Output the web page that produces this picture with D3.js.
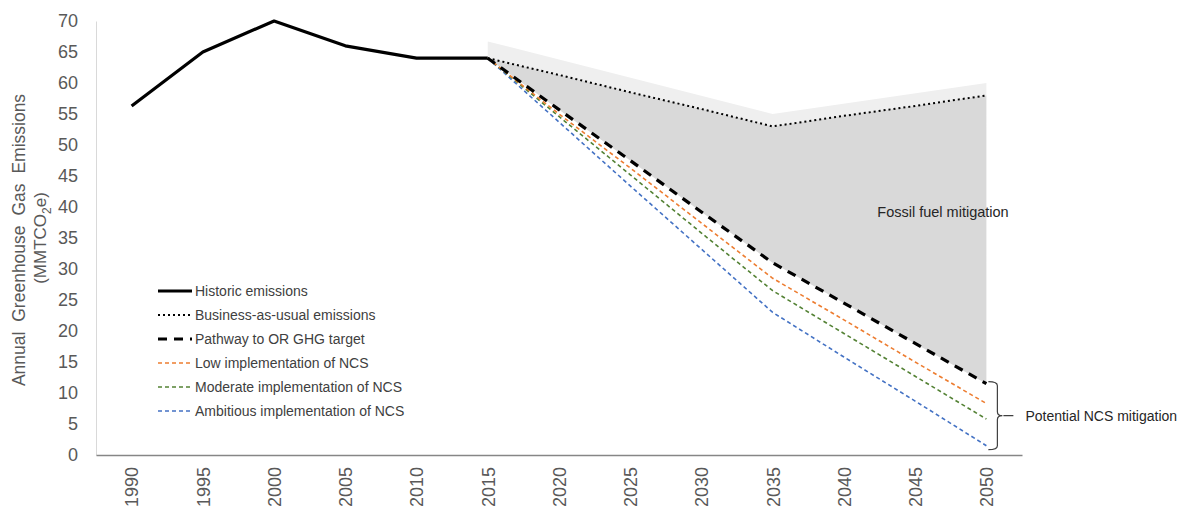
<!DOCTYPE html>
<html>
<head>
<meta charset="utf-8">
<script src="https://cdn.jsdelivr.net/npm/d3@7"></script>
<style>
  body { margin: 0; background: #fff; }
  text { font-family: "Liberation Sans", Arial, sans-serif; }
</style>
</head>
<body>
<script>
// years on the category axis
var years = [1990, 1995, 2000, 2005, 2010, 2015, 2020, 2025, 2030, 2035, 2040, 2045, 2050]
var projYears = [2015, 2020, 2025, 2030, 2035, 2040, 2045, 2050]
var yTicks = [0, 5, 10, 15, 20, 25, 30, 35, 40, 45, 50, 55, 60, 65, 70]

// series values (MMTCO2e)
var historic = [56.3, 65, 70, 66, 64, 64]
var bau = [64, 61.3, 58.5, 55.8, 53, 54.7, 56.3, 58]
var pathway = [64, 55.7, 47.5, 39.2, 31, 24.5, 18, 11.5]
var lowNCS = [64, 55, 46.3, 37.4, 28.5, 21.8, 15, 8.3]
var modNCS = [64, 54.6, 45.2, 35.8, 26.5, 19.6, 12.7, 5.8]
var ambNCS = [64, 53.7, 43.4, 33.2, 23, 15.8, 8.7, 1.5]

// faint band above the business-as-usual line
var shadeYears = [2015, 2035, 2050]
var shadeTop = [66.7, 55, 60]

var w = 1191
var h = 521

var svg = d3.select("body")
            .append("svg")
            .attr("width", w)
            .attr("height", h)

const xScale = d3.scalePoint()
    .domain(years)
    .range([96, 1022])
    .padding(0.5)

const yScale = d3.scaleLinear()
    .domain([0, 70])
    .range([455, 21])

// light shade
var shadeData = shadeYears.map((yr, i) => ({ x: yr, top: shadeTop[i], bot: bau[projYears.indexOf(yr)] }))
svg.append("path")
    .datum(shadeData)
    .attr("fill", "#efefef")
    .attr("d", d3.area()
        .x(d => xScale(d.x))
        .y0(d => yScale(d.bot))
        .y1(d => yScale(d.top)))

// fossil fuel mitigation area
var fillData = projYears.map((yr, i) => ({ x: yr, top: bau[i], bot: pathway[i] }))
svg.append("path")
    .datum(fillData)
    .attr("fill", "#d9d9d9")
    .attr("d", d3.area()
        .x(d => xScale(d.x))
        .y0(d => yScale(d.bot))
        .y1(d => yScale(d.top)))

// y axis
const yAxis = d3.axisLeft(yScale).tickValues(yTicks).tickSize(0).tickPadding(18)
var gy = svg.append("g")
    .attr("transform", "translate(96, 0)")
    .call(yAxis)
gy.select(".domain").attr("stroke", "#d9d9d9")
gy.selectAll("text")
    .attr("fill", "#595959")
    .style("font-size", "18px")

// x axis
const xAxis = d3.axisBottom(xScale).tickSize(0).tickPadding(0)
var gx = svg.append("g")
    .attr("transform", "translate(0, 455)")
    .call(xAxis)
gx.select(".domain").attr("stroke", "#868686").attr("stroke-width", 1.5)
gx.selectAll("text")
    .attr("fill", "#595959")
    .style("font-size", "18px")
    .attr("text-anchor", "end")
    .attr("transform", "rotate(-90)")
    .attr("x", -12)
    .attr("y", 0)
    .attr("dy", "0.35em")

// y title
svg.append("text")
    .attr("transform", "translate(25, 240) rotate(-90)")
    .attr("text-anchor", "middle")
    .attr("fill", "#595959")
    .style("font-size", "17.5px")
    .style("word-spacing", "5px")
    .text("Annual Greenhouse Gas Emissions")
var t2 = svg.append("text")
    .attr("transform", "translate(46, 238) rotate(-90)")
    .attr("text-anchor", "middle")
    .attr("fill", "#595959")
    .style("font-size", "17px")
t2.append("tspan").text("(MMTCO")
t2.append("tspan").attr("dy", 5).style("font-size", "12px").text("2")
t2.append("tspan").attr("dy", -5).text("e)")

var line = d3.line()
    .x(d => xScale(d[0]))
    .y(d => yScale(d[1]))

function pairs(xs, vs) { return xs.map((x, i) => [x, vs[i]]) }

var series = [
    { name: "Ambitious implementation of NCS", vals: ambNCS, color: "#4472c4", width: 1.6, dash: "4,3" },
    { name: "Moderate implementation of NCS", vals: modNCS, color: "#548235", width: 1.6, dash: "4,3" },
    { name: "Low implementation of NCS", vals: lowNCS, color: "#ed7d31", width: 1.6, dash: "4,3" },
    { name: "Pathway to OR GHG target", vals: pathway, color: "#000", width: 3.2, dash: "9,7" },
    { name: "Business-as-usual emissions", vals: bau, color: "#000", width: 2, dash: "2,3" }
]

series.forEach(s => {
    svg.append("path")
        .datum(pairs(projYears, s.vals))
        .attr("fill", "none")
        .attr("stroke", s.color)
        .attr("stroke-width", s.width)
        .attr("stroke-dasharray", s.dash)
        .attr("d", line)
})

svg.append("path")
    .datum(pairs(years.slice(0, 6), historic))
    .attr("fill", "none")
    .attr("stroke", "#000")
    .attr("stroke-width", 3.2)
    .attr("stroke-linejoin", "round")
    .attr("d", line)

// legend
var legendItems = [
    { name: "Historic emissions", color: "#000", width: 3.2, dash: null },
    { name: "Business-as-usual emissions", color: "#000", width: 2, dash: "2,3" },
    { name: "Pathway to OR GHG target", color: "#000", width: 3.2, dash: "9,7" },
    { name: "Low implementation of NCS", color: "#ed7d31", width: 1.6, dash: "4,3" },
    { name: "Moderate implementation of NCS", color: "#548235", width: 1.6, dash: "4,3" },
    { name: "Ambitious implementation of NCS", color: "#4472c4", width: 1.6, dash: "4,3" }
]
var lg = svg.append("g").selectAll("g")
    .data(legendItems)
    .enter()
    .append("g")
    .attr("transform", (d, i) => "translate(158," + (291 + i * 24) + ")")
lg.append("line")
    .attr("x1", 0).attr("x2", 34)
    .attr("stroke", d => d.color)
    .attr("stroke-width", d => d.width)
    .attr("stroke-dasharray", d => d.dash)
lg.append("text")
    .attr("x", 37)
    .attr("dy", "0.35em")
    .attr("fill", "#404040")
    .style("font-size", "14px")
    .text(d => d.name)

// annotations
svg.append("text")
    .attr("x", 943)
    .attr("y", 217)
    .attr("text-anchor", "middle")
    .attr("fill", "#262626")
    .style("font-size", "14.5px")
    .text("Fossil fuel mitigation")

var bx = xScale(2050)
var bTop = yScale(pathway[pathway.length - 1]) - 2
var bBot = yScale(ambNCS[ambNCS.length - 1]) + 4
var bMid = (bTop + bBot) / 2
svg.append("path")
    .attr("fill", "none")
    .attr("stroke", "#404040")
    .attr("stroke-width", 1.2)
    .attr("d", "M" + (bx + 2) + "," + bTop +
        " Q" + (bx + 11) + "," + bTop + " " + (bx + 11) + "," + (bTop + 4) +
        " L" + (bx + 11) + "," + (bMid - 4) +
        " Q" + (bx + 11) + "," + bMid + " " + (bx + 16) + "," + bMid +
        " Q" + (bx + 11) + "," + bMid + " " + (bx + 11) + "," + (bMid + 4) +
        " L" + (bx + 11) + "," + (bBot - 4) +
        " Q" + (bx + 11) + "," + bBot + " " + (bx + 2) + "," + bBot +
        " M" + (bx + 17) + "," + bMid + " L" + (bx + 27) + "," + bMid)
svg.append("text")
    .attr("x", bx + 39)
    .attr("y", bMid)
    .attr("dy", "0.35em")
    .attr("fill", "#262626")
    .style("font-size", "14px")
    .text("Potential NCS mitigation")
</script>
</body>
</html>
